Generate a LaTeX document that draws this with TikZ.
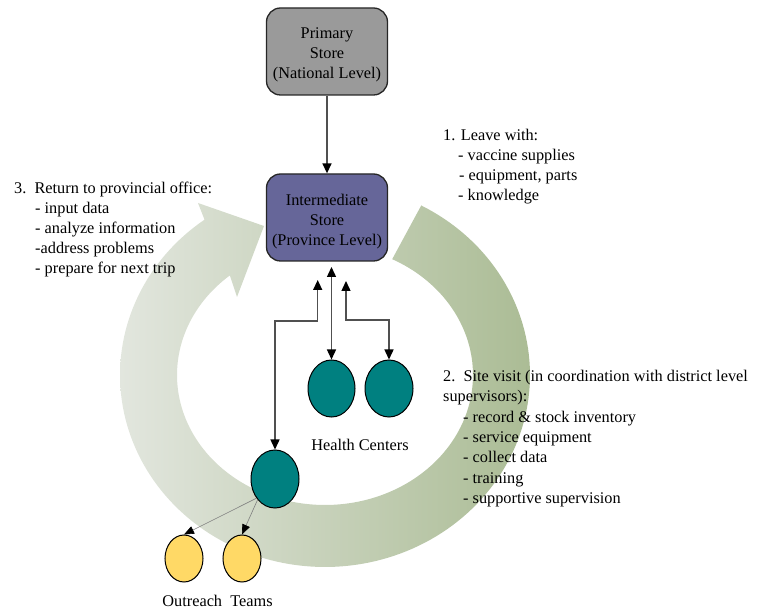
\documentclass[tikz,border=0pt]{standalone}
\usepackage{fontspec}
\setmainfont{Liberation Serif}
\usetikzlibrary{shapes.geometric,arrows.meta}
\definecolor{tealfill}{HTML}{008080}
\definecolor{yellowfill}{HTML}{FFD966}
\definecolor{grayfill}{HTML}{9A9A9A}
\definecolor{purplefill}{HTML}{666699}
\definecolor{bandL}{HTML}{E2E6DE}
\definecolor{bandR}{HTML}{ABBC95}
\definecolor{linegray}{HTML}{505050}
\newcommand{\fnt}{\fontsize{16.3}{20}\selectfont}
\begin{document}
\begin{tikzpicture}[x=1pt,y=-1pt,
  >={Triangle[length=10pt,width=9pt,color=black]},
  txt/.style={anchor=base west,inner sep=0pt,font=\fnt},
  ctxt/.style={anchor=base,inner sep=0pt,font=\fnt},
  boxtxt/.style={align=center,inner sep=0pt,font=\fnt},
  store/.style={draw=black!85,line width=1.3pt,rounded corners=14pt,minimum width=121pt,minimum height=87pt,inner sep=0pt},
  site/.style={ellipse,draw=black,line width=1pt,fill=tealfill,inner sep=0pt},
  team/.style={ellipse,draw=black,line width=1pt,fill=yellowfill,inner sep=0pt,minimum width=38pt,minimum height=47pt},
  conn/.style={draw=linegray,line width=1.4pt},
  thinconn/.style={draw=gray,line width=0.6pt,-{Triangle[length=10pt,width=8pt,color=black]}}]
\useasboundingbox (0,0) rectangle (764,609);

% circular band arrow
\shade[left color=bandL,right color=bandR]
  plot[domain=62:-234,samples=160,variable=\t] ({325+205*cos(\t)},{375-192*sin(\t)})
  -- (198,203) -- (264,226) -- (237,297)
  -- plot[domain=-230:63,samples=160,variable=\t] ({325+148*cos(\t)},{375-130*sin(\t)})
  -- cycle;

% stores
\node[store,fill=grayfill] (ps) at (327,51.5) {};
\node[boxtxt] (pst) at (327,55.2) {Primary\\Store\\(National Level)};
\node[store,fill=purplefill] (is) at (327,217.5) {};
\node[boxtxt] (ist) at (327,221.2) {Intermediate\\Store\\(Province Level)};

% sites
\node[site,minimum width=47pt,minimum height=57pt] (hc1) at (331.5,388.5) {};
\node[site,minimum width=48pt,minimum height=57pt] (hc2) at (389,388.5) {};
\node[site,minimum width=48pt,minimum height=58pt] (ot) at (275,479) {};
\node[team] (oy1) at (184,558.5) {};
\node[team] (oy2) at (242,558.5) {};

\node[ctxt] (hcl) at (360,451) {Health Centers};
\node[ctxt] (otl) at (217.5,606.5) {Outreach\ \ Teams};

% connectors
\draw[conn,->] (ps) -- (is);
\coordinate (c1) at (331.5,267);
\draw[conn,<->] (hc1) -- (c1);
\coordinate (c3) at (346,281);
\coordinate (c3k) at (346,320);
\draw[conn,<->] (hc2.north) |- (c3k) -- (c3);
\coordinate (c2) at (317.7,280);
\coordinate (c2k) at (317.7,321);
\draw[conn,<->] (ot.north) |- (c2k) -- (c2);
\draw[thinconn] (ot.226) -- (oy1.north);
\draw[thinconn] (ot.230) -- (oy2.north);

% text block 1
\node[txt] (t1a) at (443,141) {1. Leave with:};
\node[txt] (t1b) at (458,161) {- vaccine supplies};
\node[txt] (t1c) at (459,181) {- equipment, parts};
\node[txt] (t1d) at (458,201) {- knowledge};

% text block 3
\node[txt] (t3a) at (14,194) {3.\ \ Return to provincial office:};
\node[txt] (t3b) at (35,214) {- input data};
\node[txt] (t3c) at (35,234) {- analyze information};
\node[txt] (t3d) at (35,254) {-address problems};
\node[txt] (t3e) at (35,274) {- prepare for next trip};

% text block 2
\node[txt] (t2a) at (443,382) {2.\ \ Site visit (in coordination with district level};
\node[txt] (t2b) at (443,402) {supervisors):};
\node[txt] (t2c) at (463,422.5) {- record \& stock inventory};
\node[txt] (t2d) at (463,443) {- service equipment};
\node[txt] (t2e) at (463,463) {- collect data};
\node[txt] (t2f) at (463,483.5) {- training};
\node[txt] (t2g) at (463,504) {- supportive supervision};
\end{tikzpicture}
\end{document}
